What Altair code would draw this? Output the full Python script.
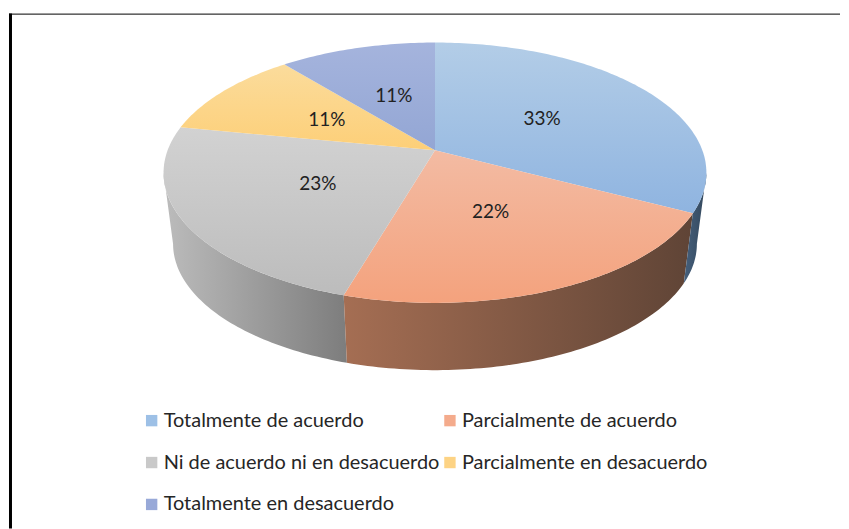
import math
import altair as alt
import pandas as pd

categories = ["Totalmente de acuerdo", "Parcialmente de acuerdo", "Ni de acuerdo ni en desacuerdo",
              "Parcialmente en desacuerdo", "Totalmente en desacuerdo"]
values = [32.6, 22.0, 23.4, 11.0, 11.0]
labels = ["33%", "22%", "23%", "11%", "11%"]
legend_colors = ["#9dc0e6", "#f4ab8c", "#c9c9c9", "#fdd384", "#98a9d8"]
top_stops = [("#b3cde7", "#8fb4e0"), ("#f3bba3", "#f4a27d"), ("#d2d2d2", "#bcbcbc"),
             ("#fbdc9c", "#fdcf78"), ("#a5b4dd", "#93a6d4")]
wall_stops = {0: ("#46607c", "#33475c"), 1: ("#a56e53", "#5f4436"), 2: ("#bcbcbc", "#7d7d7d")}

# tilted-disc view
CX, K = 435, 0.1724
RIGHT_TURN = math.acos(-K) / (2 * math.pi)
LEFT_TURN = 1 - RIGHT_TURN


def project(frac, r=1.0, ay=150, ax=268, by=126.6):
    t = 2 * math.pi * frac
    d = 1 + K * r * math.cos(t)
    return CX + ax * r * math.sin(t) / d, ay - by * r * math.cos(t) / d


def arc_fracs(a, b):
    n = max(2, int((b - a) * 360))
    return [a + (b - a) * i / n for i in range(n + 1)]


total = sum(values)
edges = [sum(values[:i]) / total for i in range(len(values) + 1)]

base_x = alt.X("x:Q", axis=None, scale=alt.Scale(domain=[8, 841], nice=False, zero=False))
base_y = alt.Y("y:Q", axis=None, scale=alt.Scale(domain=[8, 529], nice=False, zero=False, reverse=True))


def poly(points, fill):
    df = pd.DataFrame([{"x": p[0], "y": p[1], "i": i} for i, p in enumerate(points)])
    return alt.Chart(df).mark_line(interpolate="linear-closed", fill=fill, strokeWidth=0, strokeOpacity=0,
                                   clip=False).encode(x=base_x, y=base_y, order="i:Q")


def grad(c0, c1, horizontal):
    return alt.Gradient(gradient="linear", x1=0, y1=0, x2=1 if horizontal else 0, y2=0 if horizontal else 1,
                        stops=[alt.GradientStop(color=c0, offset=0), alt.GradientStop(color=c1, offset=1)])


layers = []

# side walls: only the part of each slice on the visible front of the disc
for idx in [2, 1, 0]:
    a, b = max(edges[idx], RIGHT_TURN), min(edges[idx + 1], LEFT_TURN)
    up = [project(f) for f in arc_fracs(a, b)]
    down = [project(f, ay=222, ax=258.6, by=122.8) for f in arc_fracs(a, b)]
    layers.append(poly(up + down[::-1], grad(*wall_stops[idx], True)))

# top faces
for idx in range(len(values)):
    a, b = edges[idx], edges[idx + 1]
    pts = [(CX, 150)] + [project(f) for f in arc_fracs(a, b)]
    layers.append(poly(pts, grad(*top_stops[idx], False)))

# labels and legend
mids = [(edges[i] + edges[i + 1]) / 2 for i in range(len(values))]
lab_df = pd.DataFrame({
    "x": [project(m, r=0.49)[0] for m in mids],
    "y": [project(m, r=0.49)[1] for m in mids],
    "label": labels,
    "cat": categories,
})
legend_layer = alt.Chart(lab_df).mark_point(filled=True, shape="square", size=1, opacity=0.01).encode(
    x=base_x, y=base_y,
    color=alt.Color("cat:N", sort=categories, scale=alt.Scale(domain=categories, range=legend_colors),
                    legend=alt.Legend(title=None, orient="none", legendX=133, legendY=403, columns=2,
                                      direction="horizontal",
                                      symbolType="square", symbolSize=130, symbolOpacity=1, symbolStrokeWidth=0,
                                      labelFont="Lato", labelFontSize=20, labelColor="#262626", labelLimit=400,
                                      rowPadding=22, columnPadding=-4, labelOffset=2)))
text_layer = alt.Chart(lab_df).mark_text(font="Lato", fontSize=19, color="#222222").encode(
    x=base_x, y=base_y, text="label:N")

frame_left = alt.Chart(pd.DataFrame({"a": [0]})).mark_rule(color="black", strokeWidth=3).encode(
    x=alt.value(1.5), y=alt.value(5), y2=alt.value(521))
frame_top = alt.Chart(pd.DataFrame({"a": [0]})).mark_rule(color="black", strokeWidth=1).encode(
    x=alt.value(0), x2=alt.value(833), y=alt.value(5.5))

chart = alt.layer(*layers, legend_layer, text_layer, frame_left, frame_top).properties(
    width=833, height=521, padding=0, background="white"
).configure_view(stroke=None)

chart.save("out.html", embed_options={"renderer": "svg", "actions": False})
